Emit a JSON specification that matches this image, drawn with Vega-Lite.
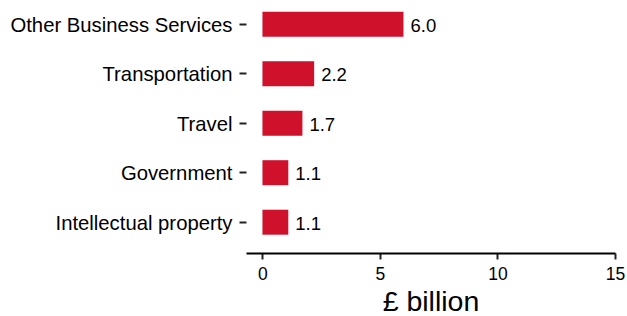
{
  "$schema": "https://vega.github.io/schema/vega-lite/v6.json",
  "autosize": "none",
  "width": 369,
  "height": 253,
  "padding": {"left": 246, "top": 0, "right": 12, "bottom": 63},
  "background": "white",
  "config": {"view": {"stroke": null}, "font": "Liberation Sans"},
  "data": {
    "values": [
      {"category": "Other Business Services", "value": 6.0},
      {"category": "Transportation", "value": 2.2},
      {"category": "Travel", "value": 1.7},
      {"category": "Government", "value": 1.1},
      {"category": "Intellectual property", "value": 1.1}
    ]
  },
  "encoding": {
    "y": {
      "field": "category",
      "type": "nominal",
      "sort": ["Other Business Services", "Transportation", "Travel", "Government", "Intellectual property"],
      "scale": {"paddingInner": 0.495, "paddingOuter": 0.303, "align": 0.39},
      "axis": {
        "title": null,
        "domain": false,
        "ticks": true,
        "tickSize": 7,
        "tickWidth": 2,
        "tickColor": "#222222",
        "labelFont": "Liberation Sans",
        "labelFontSize": 20.3,
        "labelColor": "#000000",
        "labelPadding": 7,
        "labelOffset": 1.5,
        "labelLimit": 400
      }
    },
    "x": {
      "field": "value",
      "type": "quantitative",
      "scale": {"domain": [-0.7, 15], "nice": false, "zero": false},
      "axis": {
        "title": "£ billion",
        "titleFont": "Liberation Sans",
        "titleFontSize": 28.5,
        "titleFontWeight": "normal",
        "titleColor": "#000000",
        "titlePadding": 5,
        "values": [0, 5, 10, 15],
        "grid": false,
        "domain": true,
        "domainColor": "#000000",
        "domainWidth": 2,
        "tickSize": 6,
        "tickWidth": 2,
        "tickColor": "#222222",
        "labelFont": "Liberation Sans",
        "labelFontSize": 17.5,
        "labelColor": "#000000",
        "labelPadding": 6,
        "labelFlush": false
      }
    }
  },
  "layer": [
    {"mark": {"type": "bar", "color": "#D0112B"}},
    {
      "mark": {"type": "text", "align": "left", "baseline": "middle", "dx": 7, "dy": 1.5, "font": "Liberation Sans", "fontSize": 18.5, "color": "#000000"},
      "encoding": {"text": {"field": "value", "type": "quantitative", "format": ".1f"}}
    }
  ]
}
